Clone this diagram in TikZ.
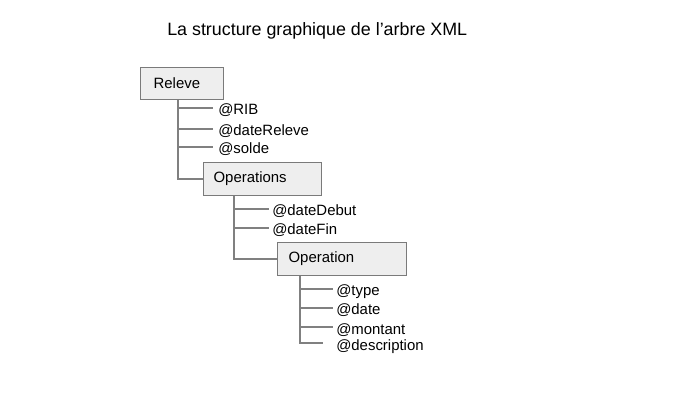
\documentclass[tikz,border=0pt]{standalone}
\usepackage{fontspec}
\setmainfont{Liberation Sans}
\definecolor{boxfill}{HTML}{EEEEEE}
\definecolor{boxline}{HTML}{7A7A7A}
\definecolor{conncol}{HTML}{808080}
\tikzset{
  px/.style={x=0.75pt,y=-0.75pt},
  box/.style={draw=boxline, fill=boxfill, line width=0.9pt, anchor=north west,
              align=left, font=\fontsize{11.2pt}{13pt}\selectfont, inner ysep=0pt},
  attr/.style={anchor=base west, inner xsep=0pt, inner ysep=0pt, font=\fontsize{11.2pt}{13pt}\selectfont},
  conn/.style={draw=conncol, line width=1pt},
}
\begin{document}
\begin{tikzpicture}[px]
\useasboundingbox (0,0) rectangle (685,413);
\node[anchor=base west, inner sep=0pt, font=\fontsize{13.4pt}{15pt}\selectfont] (title) at (167,36) {La structure graphique de l’arbre XML};

% boxes
\node[box, minimum width=62.25pt, minimum height=24pt, inner xsep=9.75pt, text width=42.75pt] (releve) at (140,67) {Releve};
\node[box, minimum width=88.5pt, minimum height=24.75pt, inner xsep=7.5pt, text width=73.5pt] (operations) at (203,162) {Operations};
\node[box, minimum width=96.75pt, minimum height=24.75pt, inner xsep=8.25pt, text width=80.25pt] (operation) at (277,242) {Operation};

% attributes of Releve (baseline = branch line + 7px)
\node[attr] (rib) at (218,115) {@RIB};
\node[attr] (datereleve) at (218,136) {@dateReleve};
\node[attr] (solde) at (218,154) {@solde};
% attributes of Operations
\node[attr] (datedebut) at (272,216) {@dateDebut};
\node[attr] (datefin) at (272,235) {@dateFin};
% attributes of Operation
\node[attr] (type) at (336,296) {@type};
\node[attr] (date) at (336,315) {@date};
\node[attr] (montant) at (336,334) {@montant};
\node[attr] (description) at (336,350) {@description};

% connectors
\tikzset{branch/.style={xshift=-#1*0.75pt, yshift=5.25pt}}
\coordinate (r0) at ([xshift=38*0.75pt]releve.south west);
\draw[conn] (r0) |- ([branch=5]rib.base west);
\draw[conn] (r0) |- ([branch=5]datereleve.base west);
\draw[conn] (r0) |- ([branch=5]solde.base west);
\draw[conn] (r0) |- (operations.west);

\coordinate (o0) at ([xshift=31*0.75pt]operations.south west);
\draw[conn] (o0) |- ([branch=3]datedebut.base west);
\draw[conn] (o0) |- ([branch=3]datefin.base west);
\draw[conn] (o0) |- (operation.west);

\coordinate (p0) at ([xshift=23*0.75pt]operation.south west);
\draw[conn] (p0) |- ([branch=3]type.base west);
\draw[conn] (p0) |- ([branch=3]date.base west);
\draw[conn] (p0) |- ([branch=3]montant.base west);
\draw[conn] (p0) |- ([branch=13]description.base west);
\end{tikzpicture}
\end{document}
